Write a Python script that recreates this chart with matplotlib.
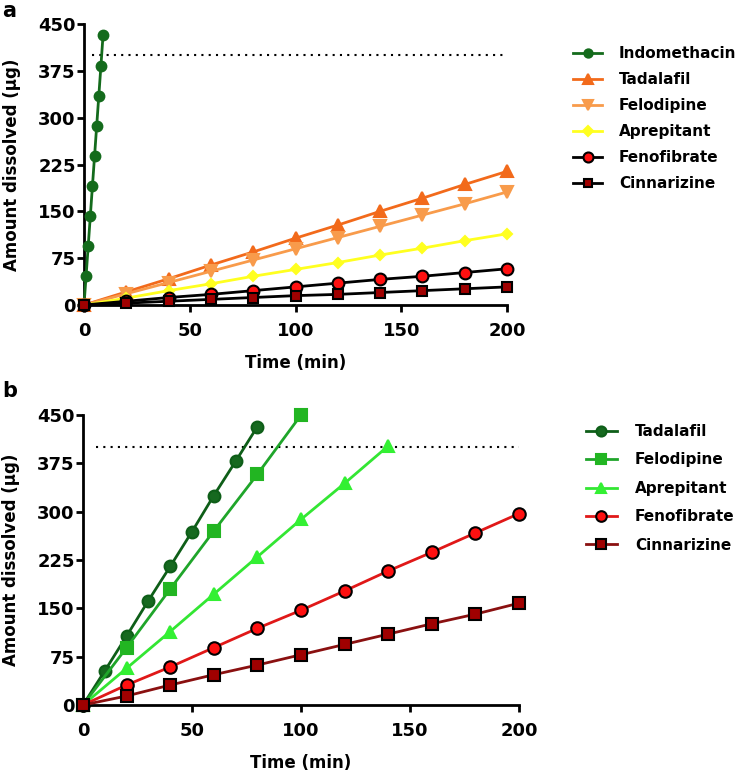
import numpy as np
import matplotlib.pyplot as plt

plt.rcParams['font.family'] = ['DejaVu Sans']
plt.rcParams['font.weight'] = 'bold'

# panel a data
a_indo_t = [0, 1, 2, 3, 4, 5, 6, 7, 8, 9]
a_indo = [0, 47, 95, 143, 191, 239, 287, 335, 383, 432]
a_t = [0, 20, 40, 60, 80, 100, 120, 140, 160, 180, 200]
a_tada = [0, 21, 42, 64, 85, 107, 128, 150, 171, 193, 214]
a_felo = [0, 18, 36, 54, 72, 90, 108, 126, 144, 162, 181]
a_apre = [0, 11, 23, 34, 46, 57, 68, 80, 91, 103, 114]
a_feno = [0, 6, 12, 17, 23, 29, 35, 41, 46, 52, 58]
a_cinn = [0, 3, 6, 9, 12, 15, 17, 20, 23, 26, 29]

# panel b data
b_tada_t = [0, 10, 20, 30, 40, 50, 60, 70, 80]
b_tada = [0, 53, 107, 162, 215, 269, 325, 378, 432]
b_felo_t = [0, 20, 40, 60, 80, 100]
b_felo = [0, 89, 180, 270, 358, 450]
b_apre_t = [0, 20, 40, 60, 80, 100, 120, 140]
b_apre = [0, 57, 114, 172, 230, 288, 344, 402]
b_t = [0, 20, 40, 60, 80, 100, 120, 140, 160, 180, 200]
b_feno = [0, 31, 59, 89, 119, 147, 177, 208, 237, 267, 297]
b_cinn = [0, 14, 31, 47, 62, 78, 94, 110, 126, 141, 158]

limit = 400
yticks = [0, 75, 150, 225, 300, 375, 450]
xticks = [0, 50, 100, 150, 200]

W, H = 742, 774
fig = plt.figure(figsize=(W / 100, H / 100), dpi=100)


def box(l, r, t, b):
    return [l / W, 1 - b / H, (r - l) / W, (b - t) / H]


def style(ax):
    ax.set_xlim(0, 200)
    ax.set_ylim(0, 450)
    ax.set_xticks(xticks)
    ax.set_yticks(yticks)
    for s in ['top', 'right']:
        ax.spines[s].set_visible(False)
    for s in ['left', 'bottom']:
        ax.spines[s].set_linewidth(2)
    ax.tick_params(width=2, length=5, labelsize=13)
    ax.tick_params(axis='y', pad=1)
    ax.tick_params(axis='x', pad=7)
    for lab in ax.get_xticklabels() + ax.get_yticklabels():
        lab.set_fontweight('bold')
    ax.set_xlabel('Time (min)', fontsize=12, fontweight='bold', labelpad=10)
    ax.set_ylabel('Amount dissolved (µg)', fontsize=12, fontweight='bold', labelpad=12)


def series(ax, x, y, label, lc, marker, fc, ec, ms=9):
    ax.plot(x, y, color=lc, lw=2, marker=marker, ms=ms, mfc=fc, mec=ec,
            mew=1.5, label=label, clip_on=False, zorder=3)


# ---- panel a
ax1 = fig.add_axes(box(84, 507, 24, 305))
ax1.plot([4, 200], [limit, limit], ls=(0, (1, 2.5)), color='black', lw=1.5, zorder=1)
series(ax1, a_indo_t, a_indo, 'Indomethacin', '#146b1c', 'o', '#146b1c', '#146b1c', ms=7)
series(ax1, a_t, a_tada, 'Tadalafil', '#f26a1b', '^', '#f26a1b', '#f26a1b', ms=8)
series(ax1, a_t, a_felo, 'Felodipine', '#f89b4b', 'v', '#f89b4b', '#f89b4b', ms=8)
series(ax1, a_t, a_apre, 'Aprepitant', '#ffff20', 'D', '#ffff20', '#ffff20', ms=5.5)
series(ax1, a_t, a_feno, 'Fenofibrate', 'black', 'o', '#ff1010', 'black', ms=8.5)
series(ax1, a_t, a_cinn, 'Cinnarizine', 'black', 's', '#a00000', 'black', ms=7.5)
style(ax1)
ax1.legend(loc='upper left', bbox_to_anchor=(573 / W, 1 - 46 / H),
           bbox_transform=fig.transFigure, frameon=False,
           borderaxespad=0, borderpad=0, markerscale=0.85,
           handlelength=1.9, handletextpad=1.1, labelspacing=0.72,
           prop={'weight': 'bold', 'size': 11})

# ---- panel b
ax2 = fig.add_axes(box(83, 519, 415, 705))
ax2.plot([6, 200], [limit, limit], ls=(0, (1, 2.5)), color='black', lw=1.5, zorder=1)
series(ax2, b_tada_t, b_tada, 'Tadalafil', '#0e5e18', 'o', '#16691f', '#0e5e18', ms=8.5)
series(ax2, b_felo_t, b_felo, 'Felodipine', '#1fa52a', 's', '#22b522', '#22b522', ms=8)
series(ax2, b_apre_t, b_apre, 'Aprepitant', '#33e633', '^', '#33f033', '#33f033', ms=8.5)
series(ax2, b_t, b_feno, 'Fenofibrate', '#e01818', 'o', '#ff1010', 'black', ms=9)
series(ax2, b_t, b_cinn, 'Cinnarizine', '#8a1010', 's', '#a00000', 'black', ms=8)
style(ax2)
ax2.legend(loc='upper left', bbox_to_anchor=(586 / W, 1 - 424 / H),
           bbox_transform=fig.transFigure, frameon=False,
           borderaxespad=0, borderpad=0, markerscale=0.85,
           handlelength=2.0, handletextpad=1.2, labelspacing=0.88,
           prop={'weight': 'bold', 'size': 11})

fig.text(2 / W, 1 - 1 / H, 'a', fontsize=15, fontweight='bold', va='top')
fig.text(2 / W, 1 - 381 / H, 'b', fontsize=15, fontweight='bold', va='top')

fig.savefig('out.png', dpi=100)
